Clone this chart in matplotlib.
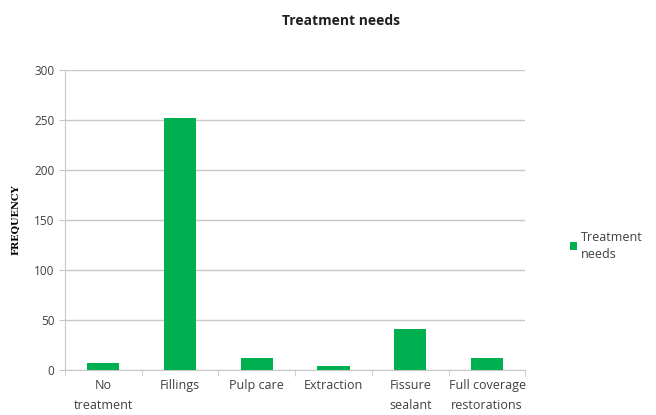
import matplotlib.pyplot as plt
import numpy as np

categories = ['No\ntreatment', 'Fillings', 'Pulp care', 'Extraction',
              'Fissure\nsealant', 'Full coverage\nrestorations']
values = [7, 252, 12, 4, 41, 12]

plt.rcParams['font.family'] = ['Open Sans', 'DejaVu Sans']

fig = plt.figure(figsize=(6.56, 4.15), dpi=100)
ax = fig.add_axes([0.099, 0.108, 0.702, 0.723])

x = np.arange(len(categories))
ax.bar(x, values, width=0.42, color='#00B050', label='Treatment\nneeds', zorder=3)

ax.set_xlim(-0.5, len(categories) - 0.5)
ax.set_ylim(0, 300)
ax.set_yticks(range(0, 301, 50))
ax.yaxis.grid(True, color='#c8c8c8', linewidth=1)
ax.set_axisbelow(True)

ax.set_xticks(x)
ax.set_xticklabels(categories, fontsize=9, color='#404040', va='top', linespacing=1.7)
ax.set_xticks(np.arange(-0.5, len(categories), 1), minor=True)
ax.tick_params(axis='x', which='major', length=0, pad=6)
ax.tick_params(axis='x', which='minor', length=4, color='#c8c8c8')
ax.tick_params(axis='y', length=4, color='#c8c8c8', labelsize=8.5, labelcolor='#404040')

for side in ['top', 'right']:
    ax.spines[side].set_visible(False)
ax.spines['left'].set_color('#c8c8c8')
ax.spines['bottom'].set_color('#c8c8c8')

ax.set_ylabel('FREQUENCY', fontsize=7, fontweight='bold', family='DejaVu Serif', labelpad=10)
fig.text(0.52, 0.95, 'Treatment needs', fontsize=10, fontweight='bold',
         ha='center', va='center', color='#202020')

leg = ax.legend(loc='center left', bbox_to_anchor=(1.072, 0.415), frameon=False,
                fontsize=9, handlelength=0.6, handleheight=0.6, handletextpad=0.3,
                labelcolor='#404040')
for t in leg.get_texts():
    t.set_linespacing(1.4)

fig.savefig('out.png', dpi=100)
